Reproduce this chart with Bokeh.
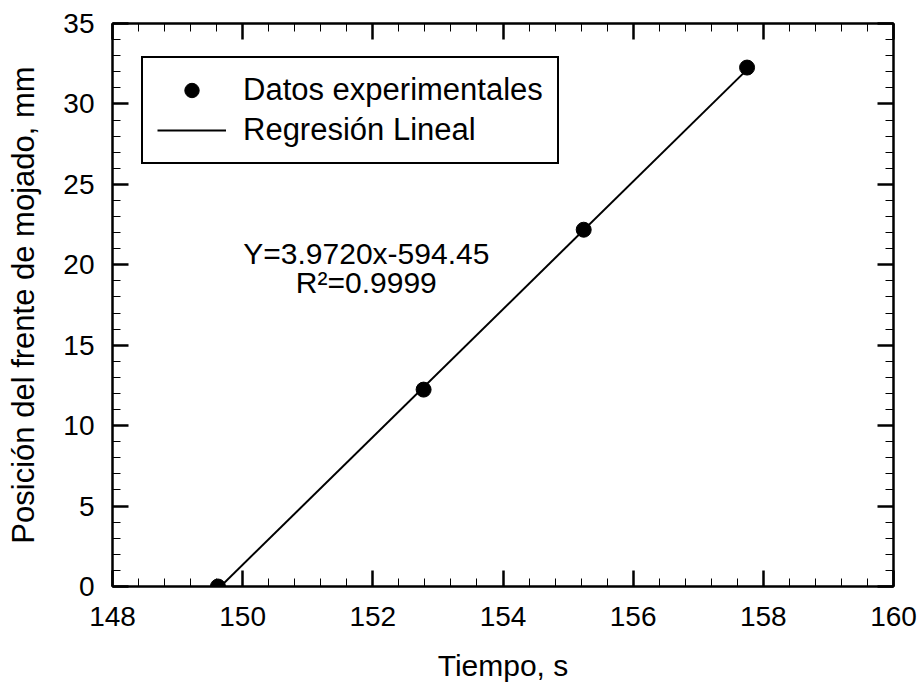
from bokeh.plotting import figure
from bokeh.models import (Range1d, LinearAxis, SingleIntervalTicker, Legend, LegendItem,
                          CustomJSTickFormatter)
from bokeh.core.properties import value
from bokeh.embed import file_html
from bokeh.resources import INLINE

# Data
tiempo = [149.62, 152.78, 155.24, 157.75]
posicion = [0.0, 12.24, 22.18, 32.26]

# Fit stated on the chart
fit_slope = 3.9720
fit_intercept = -594.45
fit_x = [tiempo[0], tiempo[-1]]
fit_y = [fit_slope * xv + fit_intercept for xv in fit_x]

eq_lines = ["Y=3.9720x-594.45", "R\u00b2=0.9999"]

x_label = "Tiempo, s"
y_label = "Posición del frente de mojado, mm"

FONT = "Liberation Sans"

p = figure(width=922, height=690, output_backend="svg", toolbar_location=None,
           x_range=Range1d(148, 160), y_range=Range1d(0, 35),
           x_axis_location=None, y_axis_location=None,
           min_border_left=112, min_border_right=29, min_border_top=23, min_border_bottom=104)
p.grid.visible = False
p.outline_line_color = "black"
p.outline_line_width = 2
p.background_fill_color = "white"
p.border_fill_color = "white"

def make_axis(ticker_interval, labels=True):
    ax = LinearAxis(ticker=SingleIntervalTicker(interval=ticker_interval, num_minor_ticks=5))
    ax.major_tick_in = 16
    ax.major_tick_out = 0
    ax.minor_tick_in = 8
    ax.minor_tick_out = 0
    ax.major_tick_line_width = 2.5
    ax.minor_tick_line_width = 1
    ax.axis_line_width = 2
    ax.axis_line_color = "black"
    ax.major_tick_line_color = "black"
    ax.minor_tick_line_color = "black"
    ax.major_label_text_font = FONT
    ax.major_label_text_color = "black"
    ax.major_label_text_font_size = "28px"
    if not labels:
        ax.formatter = CustomJSTickFormatter(code="return ''")
        ax.major_label_standoff = 0
    return ax

xb = make_axis(2)
xb.major_label_standoff = 20
xb.axis_label = x_label
xb.axis_label_text_font = FONT
xb.axis_label_text_font_size = "30px"
xb.axis_label_text_font_style = "normal"
xb.axis_label_text_color = "black"
xb.axis_label_standoff = 20
p.add_layout(xb, "below")

yl = make_axis(5)
yl.major_label_standoff = 18
yl.axis_label = y_label
yl.axis_label_text_font = FONT
yl.axis_label_text_font_size = "31px"
yl.axis_label_text_font_style = "normal"
yl.axis_label_text_color = "black"
yl.axis_label_standoff = 19
p.add_layout(yl, "left")

p.add_layout(make_axis(2, labels=False), "above")
p.add_layout(make_axis(5, labels=False), "right")

line_r = p.line(fit_x, fit_y, line_color="black", line_width=2)
pts_r = p.scatter(tiempo, posicion, size=15, marker="circle",
                  fill_color="black", line_color="black")

p.text(x=[151.9, 151.9], y=[20.7, 18.9], text=eq_lines,
       text_font=value(FONT), text_font_size="30px", text_color="black",
       text_align="center", text_baseline="middle")

legend = Legend(items=[LegendItem(label="Datos experimentales", renderers=[pts_r]),
                       LegendItem(label="Regresión Lineal", renderers=[line_r])],
                location=(29, 422))
legend.label_text_font = FONT
legend.label_text_font_size = "31px"
legend.label_text_color = "black"
legend.border_line_color = "black"
legend.border_line_alpha = 1
legend.border_line_width = 2
legend.background_fill_alpha = 1
legend.glyph_width = 69
legend.glyph_height = 36
legend.label_height = 36
legend.label_standoff = 17
legend.spacing = 4
legend.padding = 14
legend.margin = 0
p.add_layout(legend, "center")

open("out.html", "w").write(file_html(p, INLINE))
